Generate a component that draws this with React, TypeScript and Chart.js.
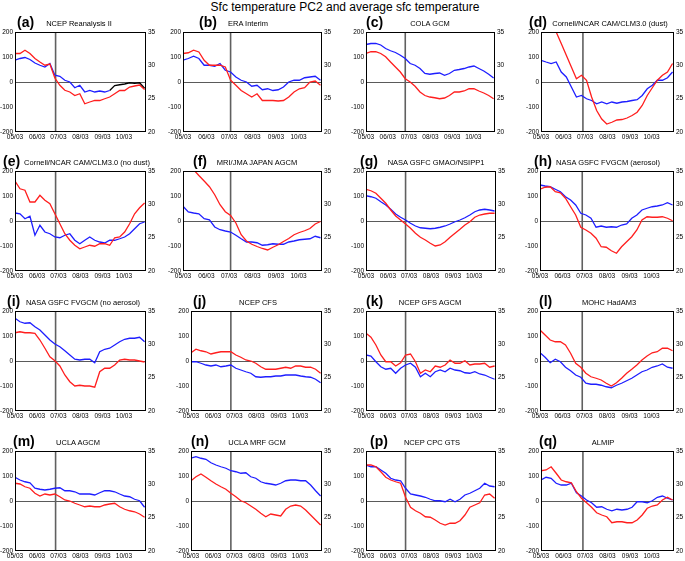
import React, { useEffect, useRef } from 'react';
import { Chart, registerables } from 'chart.js';

Chart.register(...registerables);

// ---------- data ----------
const DAYS = [0, 7, 14, 21, 28, 35, 42, 49, 56, 63, 70, 77, 84, 91, 98, 105, 112, 119, 126, 133, 140, 147, 154, 161, 168, 175, 182];
const MONTH_TICKS = [0, 31, 61, 92, 123, 153];
const MONTH_LABELS = ['05/03', '06/03', '07/03', '08/03', '09/03', '10/03'];
const LEFT_TICKS = [-200, -100, 0, 100, 200];
const RIGHT_TICKS = [20, 25, 30, 35];
const TITLE = 'Sfc temperature PC2 and average sfc temperature';

const PANEL_LETTERS = ['(a)', '(b)', '(c)', '(d)', '(e)', '(f)', '(g)', '(h)', '(i)', '(j)', '(k)', '(l)', '(m)', '(n)', '(p)', '(q)'];
const PANEL_NAMES = [
  'NCEP Reanalysis II', 'ERA Interim', 'COLA GCM', 'Cornell/NCAR CAM/CLM3.0 (dust)',
  'Cornell/NCAR CAM/CLM3.0 (no dust)', 'MRI/JMA JAPAN AGCM', 'NASA GSFC GMAO/NSIPP1', 'NASA GSFC FVGCM (aerosol)',
  'NASA GSFC FVGCM (no aerosol)', 'NCEP CFS', 'NCEP GFS AGCM', 'MOHC HadAM3',
  'UCLA AGCM', 'UCLA MRF GCM', 'NCEP CPC GTS', 'ALMIP',
];
const ONSET_DAYS = [57, 63, 56, 58, 57, 63, 56, 58, 57, 56, 56, 58, 57, 56, 56, 58];

const RED_A = [114, 114, 127, 114, 94, 80, 67, 72, 16, -13, -33, -40, -54, -47, -87, -80, -74, -74, -67, -60, -47, -34, -34, -20, -16, -12, -30];
const BLUE_A = [87, 94, 98, 90, 76, 67, 60, 74, 27, 23, 7, 0, -23, -13, -40, -34, -40, -36, -40, -34, null, null, null, null, null, null, null];
const BLACK_A = [null, null, null, null, null, null, null, null, null, null, null, null, null, null, null, null, null, null, null, -34, -14, -11, -8, -3, -5, -3, -25];
const RED_B = [114, 117, 127, 120, 87, 67, 67, 67, 60, 7, -13, -34, -47, -60, -47, -74, -74, -74, -76, -74, -60, -40, -27, -23, 0, 4, -13];
const BLUE_B = [87, 94, 103, 94, 67, 67, 63, 74, 47, 40, 20, 7, 0, -17, -13, -31, -27, -34, -31, -20, 0, 7, 7, 17, 20, 23, 7];
const RED_C = [114, 121, 121, 114, 101, 80, 60, 40, 13, 0, -17, -40, -54, -60, -63, -67, -64, -54, -40, -40, -36, -27, -27, -36, -44, -54, -67];
const BLUE_C = [150, 154, 154, 148, 134, 125, 118, 107, 94, 74, 67, 54, 34, 31, 34, 36, 27, 34, 47, 50, 54, 60, 64, 54, 44, 31, 16];
const RED_D = [null, null, null, 200, 154, 107, 60, 13, 27, 7, -60, -114, -148, -168, -161, -152, -150, -144, -134, -121, -94, -54, -23, 7, 27, 40, 74];
const BLUE_D = [87, 80, 74, 80, 40, 20, -20, -60, -54, -67, -74, -87, -80, -87, -80, -85, -80, -78, -74, -71, -54, -27, -13, 7, 7, 17, 40];
const RED_E = [160, 129, 123, 76, 76, 103, 83, 69, 29, -11, -51, -77, -97, -111, -104, -97, -101, -91, -91, -97, -67, -64, -44, -11, 29, 53, 72];
const BLUE_E = [32, 29, 9, 19, -57, -17, -44, -51, -64, -67, -57, -51, -77, -91, -77, -64, -77, -84, -88, -77, -77, -71, -64, -51, -31, -11, -4];
const RED_F = [null, null, 205, 182, 160, 137, 105, 65, 37, 22, -8, -55, -80, -93, -102, -110, -116, -105, -95, -82, -70, -55, -46, -39, -30, -12, -2];
const BLUE_F = [59, 36, 32, 29, 9, 5, -24, -35, -40, -44, -57, -71, -84, -84, -87, -97, -95, -91, -93, -93, -84, -80, -75, -73, -71, -61, -67];
const RED_G = [127, 121, 111, 91, 71, 44, 20, 4, -12, -29, -49, -65, -76, -89, -100, -96, -83, -65, -49, -33, -16, -3, 15, 24, 28, 31, 31];
const BLUE_G = [101, 97, 91, 77, 64, 47, 28, 15, 4, -9, -20, -27, -29, -31, -29, -25, -20, -12, -3, 4, 13, 24, 37, 44, 47, 44, 40];
const RED_H = [127, 135, 137, 117, 113, 91, 57, 24, -25, -36, -49, -69, -103, -105, -119, -129, -103, -83, -63, -36, 4, 17, 15, 15, 17, 11, 1];
const BLUE_H = [144, 140, 137, 127, 117, 97, 84, 64, 31, 24, 11, -25, -20, -25, -23, -25, -16, -12, 11, 24, 44, 51, 57, 60, 64, 73, 64];
const RED_I = [113, 117, 113, 113, 111, 84, 51, 17, 1, -20, -56, -83, -100, -97, -100, -100, -105, -43, -29, -29, -16, 4, 7, 4, 4, 0, -4];
const BLUE_I = [171, 157, 151, 153, 137, 124, 104, 84, 68, 57, 41, 24, 7, 4, 7, 7, -7, 37, 47, 51, 64, 77, 87, 91, 91, 95, 77];
const RED_J = [33, 47, 41, 37, 28, 33, 37, 37, 37, 24, 15, 4, 0, -9, -23, -33, -33, -33, -29, -25, -29, -20, -20, -25, -25, -33, -49];
const BLUE_J = [-3, -3, -9, -16, -20, -16, -23, -20, -16, -29, -36, -43, -49, -63, -65, -63, -63, -60, -60, -56, -56, -56, -60, -63, -65, -73, -87];
const RED_K = [111, 95, 64, 24, -3, -3, -20, -7, 24, 28, -3, -49, -36, -43, -20, -25, -16, 4, -9, -9, 1, -16, -12, -12, -9, -25, -20];
const BLUE_K = [24, 20, -3, -23, -33, -29, -49, -29, -16, -9, -25, -63, -49, -63, -43, -36, -43, -29, -36, -39, -47, -49, -43, -52, -56, -65, -73];
const RED_L = [124, 104, 84, 77, 77, 64, 31, -9, -25, -49, -63, -69, -76, -89, -100, -87, -69, -49, -33, -16, 4, 20, 33, 37, 51, 51, 41];
const BLUE_L = [33, 15, -7, 7, -3, -25, -39, -56, -65, -89, -93, -93, -97, -103, -107, -97, -89, -79, -69, -56, -43, -36, -25, -20, -12, -25, -29];
const RED_M = [71, 68, 57, 51, 31, 20, 28, 24, 28, 17, 4, 0, -9, -16, -23, -20, -23, -23, -16, -12, -9, -23, -33, -39, -43, -52, -65];
const BLUE_M = [95, 84, 77, 73, 51, 47, 44, 47, 51, 53, 41, 41, 37, 28, 28, 28, 24, 33, 41, 41, 37, 28, 20, 17, 7, 1, -25];
const RED_N = [81, 97, 108, 95, 81, 68, 57, 47, 31, 17, 1, -7, -20, -33, -49, -63, -52, -56, -60, -33, -20, -16, -20, -36, -56, -76, -96];
const BLUE_N = [171, 177, 171, 167, 153, 144, 137, 131, 121, 117, 111, 113, 97, 91, 77, 71, 68, 64, 71, 81, 84, 84, 81, 81, 64, 41, 20];
const RED_P = [144, 144, 137, 117, 95, 84, 77, 71, 15, -25, -39, -49, -63, -65, -76, -89, -96, -89, -89, -79, -56, -25, -16, -7, 24, 28, 11];
const BLUE_P = [144, 137, 137, 124, 111, 91, 84, 81, 51, 28, 24, 20, 15, 7, 1, 1, -3, 7, -3, 7, 24, 31, 41, 51, 71, 60, 57];
const RED_Q = [121, 124, 137, 111, 84, 77, 73, 37, 11, -7, -25, -47, -56, -63, -87, -83, -83, -87, -87, -76, -56, -29, -20, -16, 4, 15, 4];
const BLUE_Q = [84, 95, 91, 71, 64, 64, 71, 33, 20, 4, -7, -25, -23, -33, -39, -33, -36, -33, -25, -3, -3, -7, 1, 15, 20, 11, 4];

const PANEL_SERIES: (number | null)[][][] = [
  [RED_A, BLUE_A, BLACK_A], [RED_B, BLUE_B], [RED_C, BLUE_C], [RED_D, BLUE_D],
  [RED_E, BLUE_E], [RED_F, BLUE_F], [RED_G, BLUE_G], [RED_H, BLUE_H],
  [RED_I, BLUE_I], [RED_J, BLUE_J], [RED_K, BLUE_K], [RED_L, BLUE_L],
  [RED_M, BLUE_M], [RED_N, BLUE_N], [RED_P, BLUE_P], [RED_Q, BLUE_Q],
];

// ---------- layout & style ----------
const SERIES_COLORS = ['#ff1e1e', '#1e1eff', '#000000'];
// plot area: [left, right, top] in page pixels
const BOXES = [
  [15, 146, 32], [183, 322, 32], [366, 495, 32], [541, 674, 32],
  [15, 146, 171], [183, 322, 171], [366, 496, 171], [540, 674, 171],
  [15, 146, 311], [191, 322, 311], [366, 496, 311], [540, 674, 311],
  [15, 146, 451], [191, 322, 451], [366, 496, 451], [541, 674, 451],
];
const PLOT_H = 100;
const SUB_CX = [79, 248, 430, 610, 87, 257, 436, 608, 83, 258, 430, 609, 78, 257, 432, 603];
const LETTER_X = [17, 199, 366, 529, 3, 193, 360, 534, 7, 193, 366, 539, 13, 191, 370, 539];
const PAD_L = 18;
const PAD_R = 14;
const PAD_T = 5;
const PAD_B = 10;
const FONT = "'Liberation Sans', Arial, Helvetica, sans-serif";
const tickFont = { family: FONT, size: 6.5 };

const framePlugin = {
  id: 'frame',
  beforeDatasetsDraw(chart: any, _args: any, opts: any) {
    const { ctx, chartArea, scales } = chart;
    ctx.save();
    ctx.strokeStyle = '#5a5a5a';
    ctx.lineWidth = 1.2;
    const y0 = Math.round(scales.y.getPixelForValue(0)) + 0.5;
    ctx.beginPath();
    ctx.moveTo(chartArea.left, y0);
    ctx.lineTo(chartArea.right, y0);
    ctx.stroke();
    const xo = scales.x.getPixelForValue(opts.onset);
    ctx.strokeStyle = '#606060';
    ctx.lineWidth = 1.6;
    ctx.beginPath();
    ctx.moveTo(xo, chartArea.top);
    ctx.lineTo(xo, chartArea.bottom);
    ctx.stroke();
    ctx.restore();
  },
  afterDraw(chart: any) {
    const { ctx, chartArea } = chart;
    ctx.save();
    ctx.strokeStyle = '#000';
    ctx.lineWidth = 1;
    ctx.strokeRect(chartArea.left + 0.5, chartArea.top + 0.5, chartArea.right - chartArea.left - 1, chartArea.bottom - chartArea.top - 1);
    ctx.restore();
  },
};

function zeroPad(s: any) {
  s.paddingLeft = 0;
  s.paddingRight = 0;
  s.paddingTop = 0;
  s.paddingBottom = 0;
}

function Panel({ idx }: { idx: number }) {
  const ref = useRef<HTMLCanvasElement>(null);
  const [left, right, top] = BOXES[idx];
  const w = right - left + PAD_L + PAD_R;
  const h = PLOT_H + PAD_T + PAD_B;

  useEffect(() => {
    const datasets = PANEL_SERIES[idx].map((arr, k) => ({
      data: DAYS.map((d, i) => ({ x: d, y: arr[i] })),
      borderColor: SERIES_COLORS[k],
      borderWidth: 1.3,
      pointRadius: 0,
      fill: false,
      tension: 0,
      spanGaps: false,
      yAxisID: 'y',
    }));
    const noGrid = { display: false, drawTicks: false, tickLength: 0 };
    const chart = new Chart(ref.current as HTMLCanvasElement, {
      type: 'line',
      data: { datasets },
      plugins: [framePlugin],
      options: {
        responsive: false,
        animation: false,
        events: [],
        layout: { padding: { top: PAD_T, left: 0, right: 0, bottom: 0 }, autoPadding: false },
        plugins: {
          legend: { display: false },
          tooltip: { enabled: false },
          title: { display: false },
          frame: { onset: ONSET_DAYS[idx] },
        } as any,
        scales: {
          x: {
            type: 'linear',
            min: 0,
            max: 184,
            afterBuildTicks: (s: any) => { s.ticks = MONTH_TICKS.map((v) => ({ value: v })); },
            afterFit: (s: any) => { s.height = PAD_B; zeroPad(s); },
            grid: noGrid,
            border: { display: false },
            ticks: {
              autoSkip: false,
              maxRotation: 0,
              minRotation: 0,
              padding: 1,
              color: '#000',
              font: tickFont,
              callback: (v: any) => MONTH_LABELS[MONTH_TICKS.indexOf(Number(v))] ?? '',
            },
          },
          y: {
            type: 'linear',
            position: 'left',
            min: -200,
            max: 200,
            afterBuildTicks: (s: any) => { s.ticks = LEFT_TICKS.map((v) => ({ value: v })); },
            afterFit: (s: any) => { s.width = PAD_L; zeroPad(s); },
            grid: noGrid,
            border: { display: false },
            ticks: { padding: 2, color: '#000', font: tickFont, callback: (v: any) => String(v) },
          },
          y2: {
            type: 'linear',
            position: 'right',
            min: 20,
            max: 35,
            afterBuildTicks: (s: any) => { s.ticks = RIGHT_TICKS.map((v) => ({ value: v })); },
            afterFit: (s: any) => { s.width = PAD_R; zeroPad(s); },
            grid: noGrid,
            border: { display: false },
            ticks: { padding: 2, color: '#000', font: tickFont, callback: (v: any) => String(v) },
          },
        },
      } as any,
    });
    return () => chart.destroy();
  }, [idx]);

  return (
    <>
      <canvas
        ref={ref}
        width={w}
        height={h}
        style={{ position: 'absolute', left: left - PAD_L, top: top - PAD_T, width: w, height: h }}
      />
      <div
        style={{
          position: 'absolute', left: LETTER_X[idx], top: top - 18, height: 17, lineHeight: '17px',
          font: `bold 14px ${FONT}`, color: '#000', whiteSpace: 'nowrap',
        }}
      >
        {PANEL_LETTERS[idx]}
      </div>
      <div
        style={{
          position: 'absolute', left: SUB_CX[idx], top: top - 13, height: 10, lineHeight: '10px',
          transform: 'translateX(-50%)', font: `7.5px ${FONT}`, color: '#000', whiteSpace: 'nowrap',
        }}
      >
        {PANEL_NAMES[idx]}
      </div>
    </>
  );
}

export default function App() {
  return (
    <div style={{ position: 'absolute', left: 0, top: 0, width: 685, height: 561, background: '#fff', overflow: 'hidden' }}>
      <div
        style={{
          position: 'absolute', left: 0, width: 685, top: 0, height: 15, lineHeight: '15px', textAlign: 'center',
          font: `12px ${FONT}`, color: '#000', paddingLeft: 5, boxSizing: 'border-box',
        }}
      >
        {TITLE}
      </div>
      {PANEL_LETTERS.map((_, i) => (
        <Panel key={i} idx={i} />
      ))}
    </div>
  );
}
